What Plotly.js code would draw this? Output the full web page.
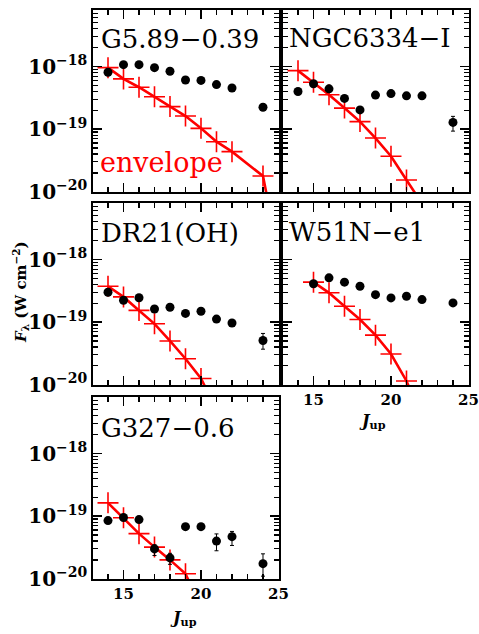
<!DOCTYPE html>
<html>
<head>
<meta charset="utf-8">
<script src="https://cdn.plot.ly/plotly-3.0.1.min.js"></script>
<style>html,body{margin:0;padding:0;background:#fff;} #chart{width:479px;height:634px;}</style>
</head>
<body>
<div id="chart"></div>
<script>
// ---- Data ----
// G5.89-0.39
const J_G589 = [14,15,16,17,18,19,20,21,22,24];
const F_G589 = [8.1e-19,1.07e-18,1.07e-18,9.6e-19,8.4e-19,6.1e-19,6.0e-19,5.15e-19,4.55e-19,2.24e-19];
const EP_G589 = [0,0,0,0,0,0,0,0,0,0];
const EM_G589 = [0,0,0,0,0,0,0,0,0,0];
const MJ_G589 = [14,15,16,17,18,19,20,21,22,24];
const MF_G589 = [9.6e-19,6.35e-19,4.67e-19,3.3e-19,2.29e-19,1.62e-19,1.03e-19,6.3e-20,4.37e-20,1.78e-20];
const TJ_G589 = [25];
const TF_G589 = [1.0e-21];

// NGC6334-I
const J_N6334 = [14,15,16,17,18,19,20,21,22,24];
const F_N6334 = [4.0e-19,5.3e-19,4.4e-19,3.1e-19,2.03e-19,3.5e-19,3.7e-19,3.4e-19,3.4e-19,1.28e-19];
const EP_N6334 = [0,0,0,0,0,0,0,0.2e-19,0,0.32e-19];
const EM_N6334 = [0,0,0,0,0,0,0,0.2e-19,0,0.35e-19];
const MJ_N6334 = [14,15,16,17,18,19,20,21];
const MF_N6334 = [8.6e-19,5.6e-19,3.55e-19,2.17e-19,1.32e-19,7.2e-20,3.7e-20,1.54e-20];
const TJ_N6334 = [22];
const TF_N6334 = [6.5e-21];

// DR21(OH)
const J_DR21 = [14,15,16,17,18,19,20,21,22,24];
const F_DR21 = [3.0e-19,2.24e-19,2.45e-19,1.62e-19,1.73e-19,1.38e-19,1.49e-19,1.12e-19,9.7e-20,5.1e-20];
const EP_DR21 = [0,0.2e-19,0,0,0,0,0,0,0,1.5e-20];
const EM_DR21 = [0,0.2e-19,0,0,0,0,0,0,0,1.4e-20];
const MJ_DR21 = [14,15,16,17,18,19,20];
const MF_DR21 = [3.75e-19,2.53e-19,1.54e-19,9.4e-20,5.0e-20,2.6e-20,1.26e-20];
const TJ_DR21 = [21];
const TF_DR21 = [4.0e-21];

// W51N-e1
const J_W51 = [15,16,17,18,19,20,21,22,24];
const F_W51 = [4.1e-19,5.1e-19,4.35e-19,3.75e-19,2.75e-19,2.44e-19,2.59e-19,2.29e-19,2.03e-19];
const EP_W51 = [0,0,0,0,0,0,0,0,0.2e-19];
const EM_W51 = [0,0,0,0,0,0,0,0,0.2e-19];
const MJ_W51 = [15,16,17,18,19,20,21];
const MF_W51 = [4.35e-19,2.94e-19,1.79e-19,1.1e-19,6.2e-20,3.1e-20,1.15e-20];
const TJ_W51 = [22];
const TF_W51 = [2.9e-21];

// G327-0.6
const J_G327 = [14,15,16,17,18,19,20,21,22,24];
const F_G327 = [8.5e-20,9.5e-20,8.8e-20,3.0e-20,2.15e-20,6.8e-20,6.8e-20,4.0e-20,4.7e-20,1.74e-20];
const EP_G327 = [0,0.1e-19,0,0.5e-20,0.4e-20,0,0,1.2e-20,1.0e-20,0.76e-20];
const EM_G327 = [0,0.1e-19,0,0.65e-20,0.45e-20,0,0,1.2e-20,1.3e-20,0.64e-20];
const MJ_G327 = [14,15,16,17,18,19];
const MF_G327 = [1.63e-19,9.4e-20,5.25e-20,3.2e-20,2.0e-20,1.2e-20];
const TJ_G327 = [20];
const TF_G327 = [3.5e-21];

const NAMES = ['G5.89\u22120.39','NGC6334\u2212I','DR21(OH)','W51N\u2212e1','G327\u22120.6'];
const X_TICKS = [15,20,25];

// ---- Build ----
const W = 479, H = 634;
const FONT = 'DejaVu Serif';
const sets = [
  {J:J_G589,F:F_G589,ep:EP_G589,em:EM_G589,mj:MJ_G589,mf:MF_G589,tj:TJ_G589,tf:TF_G589},
  {J:J_N6334,F:F_N6334,ep:EP_N6334,em:EM_N6334,mj:MJ_N6334,mf:MF_N6334,tj:TJ_N6334,tf:TF_N6334},
  {J:J_DR21,F:F_DR21,ep:EP_DR21,em:EM_DR21,mj:MJ_DR21,mf:MF_DR21,tj:TJ_DR21,tf:TF_DR21},
  {J:J_W51,F:F_W51,ep:EP_W51,em:EM_W51,mj:MJ_W51,mf:MF_W51,tj:TJ_W51,tf:TF_W51},
  {J:J_G327,F:F_G327,ep:EP_G327,em:EM_G327,mj:MJ_G327,mf:MF_G327,tj:TJ_G327,tf:TF_G327}
];
// pixel frames [left, right, top, bottom]
const frames = [
  [92.5,278.5,10,192],
  [282.5,468.5,10,192],
  [92.5,278.5,203,385],
  [282.5,468.5,203,385],
  [92.5,278.5,397,579]
];
const showX = [false,false,false,true,true];
const showY = [true,false,true,false,true];
const nameXY = [[99,39],[287,38],[99,233],[287,232],[99,428]];

const traces = [];
const layout = {
  width: W, height: H,
  margin: {l:0,r:0,t:0,b:0},
  paper_bgcolor: '#fff', plot_bgcolor: '#fff',
  showlegend: false,
  annotations: []
};
const px = x => x / W;
const py = y => 1 - y / H;

sets.forEach((s, i) => {
  const n = i === 0 ? '' : String(i + 1);
  const xa = 'x' + n, ya = 'y' + n;
  traces.push({
    x: s.mj.concat(s.tj), y: s.mf.concat(s.tf), xaxis: xa, yaxis: ya,
    mode: 'lines', line: {color: '#ff0000', width: 2.6}, hoverinfo: 'skip'
  });
  traces.push({
    x: s.mj, y: s.mf, xaxis: xa, yaxis: ya, mode: 'markers',
    marker: {symbol: 'cross-thin', size: 15, line: {color: '#ff0000', width: 1.6}},
    cliponaxis: true
  });
  traces.push({
    x: s.J, y: s.F, xaxis: xa, yaxis: ya, mode: 'markers',
    marker: {symbol: 'circle', size: 9, color: '#000'},
    error_y: {type: 'data', symmetric: false, array: s.ep, arrayminus: s.em,
              color: '#000', thickness: 1, width: 2},
    cliponaxis: true
  });
  const f = frames[i];
  layout['xaxis' + n] = {
    domain: [px(f[0]), px(f[1])], anchor: ya,
    range: [13, 25.001], tickmode: 'array', tickvals: X_TICKS,
    ticks: 'inside', ticklen: 9, tickwidth: 1.5, tickcolor: '#000',
    minor: {dtick: 1, tick0: 0, ticks: 'inside', ticklen: 5, tickwidth: 1.2, tickcolor: '#000'},
    showline: true, linewidth: 2, linecolor: '#000', mirror: 'allticks',
    showgrid: false, zeroline: false, showticklabels: showX[i],
    tickfont: {family: FONT, size: 15, color: '#000', weight: 700}
  };
  layout['yaxis' + n] = {
    domain: [py(f[3]), py(f[2])], anchor: xa, type: 'log',
    range: [-20.004, -17.097], dtick: 1, exponentformat: 'power',
    ticks: 'inside', ticklen: 9, tickwidth: 1.5, tickcolor: '#000',
    minor: {dtick: 'D1', ticks: 'inside', ticklen: 5, tickwidth: 1.2, tickcolor: '#000'},
    showline: true, linewidth: 2, linecolor: '#000', mirror: 'allticks',
    showgrid: false, zeroline: false, showticklabels: showY[i],
    tickfont: {family: FONT, size: 16, color: '#000', weight: 700}
  };
  layout.annotations.push({
    xref: 'paper', yref: 'paper', x: px(nameXY[i][0]), y: py(nameXY[i][1]),
    xanchor: 'left', yanchor: 'middle', showarrow: false, text: NAMES[i],
    font: {family: FONT, size: 26, color: '#000'}
  });
});

layout.annotations.push({
  xref: 'paper', yref: 'paper', x: px(98), y: py(163), xanchor: 'left', yanchor: 'middle',
  showarrow: false, text: 'envelope',
  font: {family: FONT, size: 27, color: '#ff0000'}
});
layout.annotations.push({
  xref: 'paper', yref: 'paper', x: px(20), y: py(292), xanchor: 'center', yanchor: 'middle',
  showarrow: false, textangle: -90,
  text: '<i>F</i><sub>\u03bb</sub> (W cm<sup>\u22122</sup>)',
  font: {family: FONT, size: 15, color: '#000', weight: 700}
});
[[372, 421], [183, 618]].forEach(p => {
  layout.annotations.push({
    xref: 'paper', yref: 'paper', x: px(p[0]), y: py(p[1]), xanchor: 'center', yanchor: 'middle',
    showarrow: false, text: '<i>J</i><sub>up</sub>',
    font: {family: FONT, size: 16, color: '#000', weight: 700}
  });
});

Plotly.newPlot('chart', traces, layout, {staticPlot: true, displayModeBar: false});
</script>
</body>
</html>
